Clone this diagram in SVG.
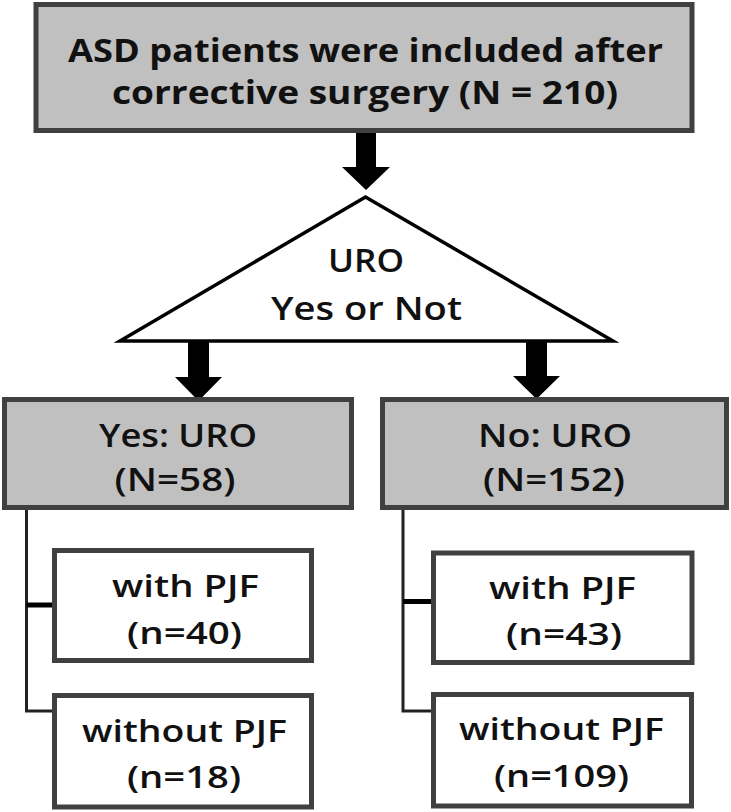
<svg xmlns="http://www.w3.org/2000/svg" width="731" height="812" viewBox="0 0 731 812">
  <style>
    .gray { fill: #c0c0c0; stroke: #404040; stroke-width: 5; }
    .white { fill: #ffffff; stroke: #404040; stroke-width: 5; }
    .tri { fill: #ffffff; stroke: #000000; stroke-width: 3.5; stroke-linejoin: miter; }
    .arrow { fill: #000000; stroke: none; }
    .line { fill: none; stroke: #222222; stroke-width: 3; }
    .stub { fill: none; stroke: #000000; stroke-width: 5; }
    text { font-family: "Open Sans", "Noto Sans", "Liberation Sans", sans-serif; fill: #111111; text-anchor: middle; }
    .top { font-size: 33px; font-weight: 700; }
    .mid { font-size: 32px; font-weight: 600; }
    .box { font-size: 31px; font-weight: 600; }
  </style>
  <rect width="731" height="812" fill="#ffffff"/>

  <g id="connectors">
    <polygon class="arrow" points="356,131 376,131 376,167 390,167 366,190 342,167 356,167"/>
    <polygon class="arrow" points="188,341 209,341 209,377 222,377 198.5,401 175,377 188,377"/>
    <polygon class="arrow" points="526,341 547,341 547,376 560,376 536.5,399 513,376 526,376"/>
    <polyline class="line" points="26.5,510 26.5,711 54,711"/>
    <line class="stub" x1="26.5" y1="605" x2="54" y2="605"/>
    <polyline class="line" points="403,509 403,711 432,711"/>
    <line class="stub" x1="403" y1="601.5" x2="432" y2="601.5"/>
  </g>

  <g id="start">
    <rect class="gray" x="36" y="4.5" width="656" height="126"/>
    <text class="top" x="365.5" y="62" textLength="595" lengthAdjust="spacingAndGlyphs">ASD patients were included after</text>
    <text class="top" x="365" y="104" textLength="506" lengthAdjust="spacingAndGlyphs">corrective surgery (N = 210)</text>
  </g>

  <g id="decision">
    <polygon class="tri" points="365.5,197 120,341 613,341"/>
    <text class="mid" x="366" y="272" textLength="76" lengthAdjust="spacingAndGlyphs">URO</text>
    <text class="mid" x="366.5" y="320" textLength="191" lengthAdjust="spacingAndGlyphs">Yes or Not</text>
  </g>

  <g id="yes-uro">
    <rect class="gray" x="4.5" y="399.5" width="347" height="108"/>
    <text class="mid" x="178" y="447" textLength="158" lengthAdjust="spacingAndGlyphs">Yes: URO</text>
    <text class="mid" x="175" y="491" textLength="121" lengthAdjust="spacingAndGlyphs">(N=58)</text>
  </g>

  <g id="no-uro">
    <rect class="gray" x="382.5" y="399.5" width="344" height="108"/>
    <text class="mid" x="555" y="447" textLength="154" lengthAdjust="spacingAndGlyphs">No: URO</text>
    <text class="mid" x="554" y="491" textLength="142" lengthAdjust="spacingAndGlyphs">(N=152)</text>
  </g>

  <g id="yes-with-pjf">
    <rect class="white" x="54.5" y="550.5" width="257" height="110"/>
    <text class="box" x="185.5" y="597" textLength="147" lengthAdjust="spacingAndGlyphs">with PJF</text>
    <text class="box" x="184.5" y="644" textLength="115" lengthAdjust="spacingAndGlyphs">(n=40)</text>
  </g>

  <g id="yes-without-pjf">
    <rect class="white" x="54.5" y="695.5" width="257" height="111.5"/>
    <text class="box" x="184.5" y="742" textLength="205" lengthAdjust="spacingAndGlyphs">without PJF</text>
    <text class="box" x="184" y="788" textLength="114" lengthAdjust="spacingAndGlyphs">(n=18)</text>
  </g>

  <g id="no-with-pjf">
    <rect class="white" x="433.5" y="553" width="258.5" height="109.5"/>
    <text class="box" x="562.5" y="599" textLength="147" lengthAdjust="spacingAndGlyphs">with PJF</text>
    <text class="box" x="564" y="645" textLength="116" lengthAdjust="spacingAndGlyphs">(n=43)</text>
  </g>

  <g id="no-without-pjf">
    <rect class="white" x="433.5" y="694.5" width="258" height="111.5"/>
    <text class="box" x="561.5" y="740" textLength="205" lengthAdjust="spacingAndGlyphs">without PJF</text>
    <text class="box" x="561.5" y="787" textLength="135" lengthAdjust="spacingAndGlyphs">(n=109)</text>
  </g>
</svg>
